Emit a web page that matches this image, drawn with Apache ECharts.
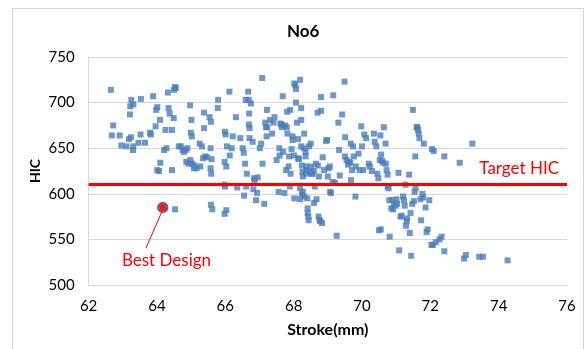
<!DOCTYPE html>
<html>
<head>
<meta charset="utf-8">
<script src="https://cdn.jsdelivr.net/npm/echarts@6/dist/echarts.min.js"></script>
<style>
  html, body { margin: 0; padding: 0; background: #ffffff; }
  #chart { width: 584px; height: 349px; }
</style>
</head>
<body>
<div id="chart"></div>
<script>
// Design samples: piston stroke (mm) vs. head injury criterion
const strokeMm = [
  62.65, 62.72, 62.68, 62.91, 62.96, 63.11, 63.18, 63.24, 63.22, 63.25,
  63.31, 63.21, 63.31, 63.30, 63.46, 63.52, 63.53, 63.65, 63.80, 63.82,
  63.89, 63.96, 63.98, 64.01, 64.09, 64.06, 64.10, 64.01, 64.25, 64.21,
  64.28, 64.32, 64.34, 64.37, 64.44, 64.44, 64.49, 64.50, 64.53, 64.55,
  64.64, 64.70, 64.75, 64.79, 64.84, 64.89, 64.86, 64.92, 64.97, 64.99,
  65.01, 65.02, 64.98, 65.03, 65.10, 65.08, 65.16, 65.25, 65.27, 65.32,
  65.35, 65.38, 65.38, 65.41, 65.47, 65.54, 65.57, 65.58, 65.57, 65.59,
  65.60, 65.78, 65.79, 65.99, 66.01, 65.98, 66.03, 65.98, 65.99, 66.05,
  66.12, 66.13, 66.19, 66.22, 66.31, 66.35, 66.44, 66.51, 66.54, 66.55,
  66.58, 66.61, 66.60, 66.63, 66.67, 66.69, 66.70, 66.71, 66.71, 66.69,
  66.75, 66.80, 66.82, 66.84, 66.86, 66.90, 66.93, 66.95, 67.01, 67.05,
  67.08, 67.09, 67.14, 67.17, 67.19, 67.21, 67.22, 67.23, 67.31, 67.37,
  67.41, 67.44, 67.50, 67.56, 67.58, 67.59, 67.61, 67.64, 67.66, 67.68,
  67.69, 67.73, 67.75, 67.78, 67.80, 67.81, 67.82, 67.85, 67.87, 67.89,
  67.90, 67.91, 67.94, 67.97, 67.97, 68.01, 68.02, 68.02, 68.05, 68.07,
  68.07, 68.10, 68.13, 68.13, 68.16, 68.19, 68.22, 68.22, 68.22, 68.24,
  68.26, 68.27, 68.19, 68.19, 68.24, 68.27, 68.29, 68.31, 68.31, 68.35,
  68.35, 68.37, 68.38, 68.37, 68.40, 68.41, 68.41, 68.43, 68.44, 68.45,
  68.47, 68.50, 68.51, 68.53, 68.55, 68.59, 68.60, 68.62, 68.65, 68.67,
  68.70, 68.71, 68.73, 68.74, 68.76, 68.78, 68.80, 68.80, 68.83, 68.85,
  68.89, 68.95, 68.98, 69.00, 69.02, 69.06, 69.07, 69.09, 69.14, 69.16,
  69.21, 69.26, 69.31, 69.33, 69.35, 69.42, 69.49, 69.50, 69.51, 69.55,
  69.59, 69.62, 69.66, 69.67, 69.68, 69.71, 69.74, 69.76, 69.81, 69.82,
  69.90, 69.93, 69.98, 70.00, 70.04, 70.07, 70.12, 70.20, 70.23, 70.29,
  70.35, 70.37, 70.42, 70.45, 70.48, 70.52, 70.54, 70.55, 70.56, 70.59,
  70.62, 70.64, 70.69, 70.70, 70.72, 70.75, 70.75, 70.78, 70.80, 70.81,
  70.86, 70.89, 70.91, 70.94, 70.99, 71.01, 71.03, 71.07, 71.09, 71.13,
  71.16, 71.20, 71.23, 71.25, 71.27, 71.29, 71.31, 71.32, 71.38, 71.40,
  71.42, 71.44, 71.47, 71.49, 71.52, 71.54, 71.56, 71.57, 71.60, 71.62,
  71.64, 71.66, 71.68, 71.71, 71.73, 71.77, 71.79, 71.81, 71.86, 71.89,
  71.92, 71.97, 72.03, 72.05, 72.08, 72.10, 72.16, 72.27, 72.33, 72.41,
  72.41, 72.86, 72.99, 73.04, 73.23, 73.43, 73.54, 74.26, 64.53, 65.58,
  65.62, 65.98, 66.03, 70.50, 64.17
];
const hicValues = [
  714, 675, 664, 664, 653, 652, 660, 662, 696, 703,
  698, 687, 652, 648, 656, 665, 704, 656, 667, 665,
  707, 674, 692, 695, 681, 625, 634, 626, 670, 648,
  650, 711, 694, 688, 670, 626, 683, 714, 717, 716,
  652, 652, 648, 646, 648, 650, 635, 633, 697, 667,
  681, 663, 637, 633, 631, 628, 628, 655, 630, 652,
  639, 689, 672, 641, 640, 684, 650, 679, 628, 622,
  638, 694, 703, 668, 665, 635, 630, 610, 608, 652,
  712, 642, 650, 663, 684, 607, 661, 650, 645, 598,
  633, 608, 703, 622, 712, 676, 688, 672, 661, 703,
  699, 657, 605, 617, 615, 593, 601, 618, 650, 655,
  727, 633, 589, 678, 673, 663, 692, 673, 681, 666,
  678, 684, 637, 602, 650, 642, 677, 676, 673, 707,
  646, 601, 675, 626, 673, 690, 666, 630, 641, 608,
  692, 622, 649, 663, 659, 642, 595, 721, 719, 715,
  700, 678, 660, 639, 638, 725, 694, 681, 652, 631,
  624, 619, 606, 594, 599, 602, 650, 666, 597, 646,
  641, 630, 626, 622, 595, 584, 579, 575, 571, 652,
  624, 655, 630, 622, 622, 625, 590, 608, 633, 594,
  689, 631, 575, 619, 571, 570, 706, 691, 568, 640,
  626, 658, 659, 619, 628, 630, 602, 601, 613, 708,
  612, 554, 678, 648, 620, 687, 723, 641, 662, 637,
  632, 635, 634, 655, 615, 626, 652, 641, 597, 630,
  644, 626, 674, 652, 626, 665, 661, 633, 630, 625,
  666, 657, 652, 622, 617, 637, 664, 561, 643, 636,
  634, 673, 655, 633, 626, 621, 608, 606, 593, 553,
  584, 593, 583, 589, 587, 594, 589, 623, 538, 575,
  576, 597, 593, 587, 610, 565, 570, 573, 621, 557,
  579, 532, 589, 692, 592, 602, 641, 606, 673, 673,
  670, 666, 661, 594, 571, 600, 596, 655, 585, 558,
  561, 593, 544, 649, 544, 647, 547, 550, 553, 537,
  641, 634, 529, 533, 655, 531, 531, 527, 583, 588,
  583, 578, 582, 560, 585
];

// Selected design and design target
const bestDesign = [64.17, 585];
const targetHic = 610;

// Axis ticks
const xTicks = { min: 62, max: 76, step: 2 };
const yTicks = { min: 500, max: 750, step: 50 };

const points = strokeMm.map((x, i) => [x, hicValues[i]]);

const chart = echarts.init(document.getElementById('chart'), null, { renderer: 'canvas' });

const FONT = 'Lato, "Open Sans", sans-serif';
const GRID_GRAY = '#d9d9d9';

chart.setOption({
  backgroundColor: '#ffffff',
  animation: false,
  title: {
    text: 'No6',
    left: 282,
    top: 18,
    textStyle: { fontFamily: FONT, fontSize: 17, fontWeight: 'bold', color: '#000000' }
  },
  grid: { left: 88.6, right: 17, top: 57, bottom: 64, containLabel: false },
  xAxis: {
    type: 'value',
    min: xTicks.min, max: xTicks.max, interval: xTicks.step,
    name: 'Stroke(mm)',
    nameLocation: 'middle',
    nameGap: 37,
    nameMoveOverlap: false,
    nameTextStyle: { fontFamily: FONT, fontSize: 16, fontWeight: 'bold', color: '#000000' },
    axisLine: { show: true, lineStyle: { color: GRID_GRAY, width: 1 } },
    axisTick: { show: false },
    splitLine: { show: false },
    axisLabel: { fontFamily: FONT, fontSize: 15, color: '#000000', margin: 14 }
  },
  yAxis: {
    type: 'value',
    min: yTicks.min, max: yTicks.max, interval: yTicks.step,
    name: 'HIC',
    nameLocation: 'middle',
    nameGap: 46,
    nameMoveOverlap: false,
    nameTextStyle: { fontFamily: FONT, fontSize: 14, fontWeight: 'bold', color: '#000000' },
    axisLine: { show: true, lineStyle: { color: GRID_GRAY, width: 1 } },
    axisTick: { show: false },
    splitLine: { show: true, lineStyle: { color: GRID_GRAY, width: 1 } },
    axisLabel: { fontFamily: FONT, fontSize: 15, color: '#000000', margin: 14 }
  },
  graphic: [
    {
      type: 'rect',
      shape: { x: 12.5, y: 8.5, width: 571, height: 350 },
      style: { fill: 'none', stroke: '#d4d4d4', lineWidth: 1 },
      silent: true,
      z: -1
    }
  ],
  series: [
    {
      name: 'Designs',
      type: 'scatter',
      symbol: 'rect',
      symbolSize: 6,
      itemStyle: { color: '#4A7EBB' },
      data: points,
      z: 2,
      markLine: {
        silent: true,
        symbol: 'none',
        lineStyle: { color: '#FF0000', width: 3, type: 'solid' },
        label: {
          show: true,
          position: 'insideEndTop',
          formatter: 'Target HIC',
          fontFamily: FONT,
          fontSize: 17,
          color: '#FF0000',
          distance: [8, 8]
        },
        data: [{ yAxis: targetHic }]
      }
    },
    {
      name: 'Best Design',
      type: 'scatter',
      symbol: 'circle',
      symbolSize: 10,
      itemStyle: { color: '#FF0000', borderColor: '#3B5E9C', borderWidth: 1.5 },
      data: [bestDesign],
      z: 5,
      markLine: {
        silent: true,
        symbol: ['none', 'arrow'],
        symbolSize: [0, 7],
        lineStyle: { color: '#FF0000', width: 1, type: 'solid' },
        label: { show: false },
        data: [[{ coord: [63.68, 540.6] }, { coord: [64.14, 580] }]]
      },
      markPoint: {
        silent: true,
        symbol: 'rect',
        symbolSize: 0,
        label: {
          show: true,
          position: 'inside',
          formatter: 'Best Design',
          fontFamily: FONT,
          fontSize: 17,
          color: '#FF0000'
        },
        data: [{ coord: [64.28, 526.3] }]
      }
    }
  ]
});
</script>
</body>
</html>
